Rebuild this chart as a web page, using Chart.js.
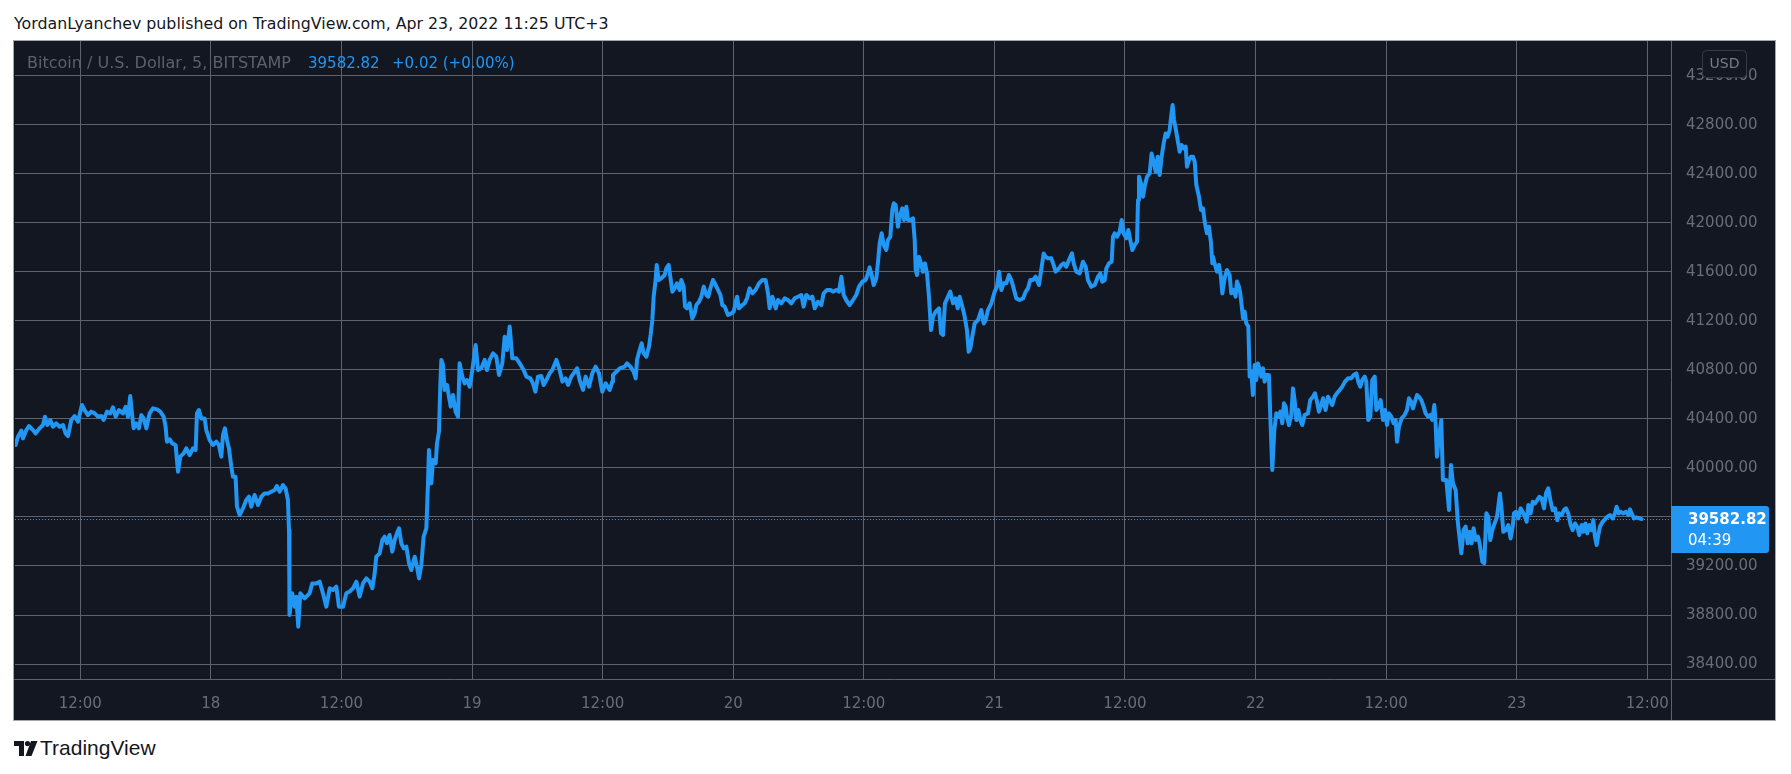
<!DOCTYPE html>
<html>
<head>
<meta charset="utf-8">
<script src="https://cdn.jsdelivr.net/npm/chart.js@4.4.1/dist/chart.umd.min.js"></script>
<style>
  html, body { margin: 0; padding: 0; background: #ffffff; width: 1791px; height: 774px; overflow: hidden; font-family: "DejaVu Sans", sans-serif; }
  #title { position: absolute; left: 14px; top: 14px; font-size: 15.8px; color: #131722; white-space: nowrap; }
  #panel { position: absolute; left: 13px; top: 40px; width: 1761px; height: 679px; border: 1px solid #a3a6af; background: #131722; }
  #miCanvas { position: absolute; left: 0; top: 0; }
  .leg { position: absolute; top: 54px; font-size: 15px; white-space: nowrap; }
  #logo { position: absolute; left: 14px; top: 736px; height: 22px; }
  #logo span { position: absolute; left: 26px; top: 0; font-family: "Liberation Sans", sans-serif; font-size: 21px; color: #131722; white-space: nowrap; }
</style>
</head>
<body>
<div id="title">YordanLyanchev published on TradingView.com, Apr 23, 2022 11:25 UTC+3</div>
<div id="panel"><canvas id="miCanvas" width="1761" height="679"></canvas></div>
<div class="leg" style="left:27px;top:53px;font-size:16px;color:#5d606b">Bitcoin / U.S. Dollar, 5, BITSTAMP</div>
<div class="leg" style="left:308px;color:#2196f3">39582.82</div>
<div class="leg" style="left:392px;color:#2196f3">+0.02 (+0.00%)</div>
<div id="logo">
  <svg width="24" height="16" viewBox="0 0 24 16" style="position:absolute;left:0;top:5px">
    <path d="M0 0 H10 V15 H5 V5 H0 Z" fill="#131722"/>
    <circle cx="13.5" cy="2.6" r="2.6" fill="#131722"/>
    <path d="M17 0 H23.5 L17.5 15 H11.5 Z" fill="#131722"/>
  </svg>
  <span>TradingView</span>
</div>
<script>
// hours since Apr 17 00:00 (UTC+3), 5-min BTC/USD
const hours = [
  6.06,6.27,6.58,6.73,7.04,7.28,7.65,7.90,8.26,8.57,8.75,8.97,9.24,9.49,9.79,10.10,10.41,10.65,10.87,11.17,11.48,11.79,
  12.15,12.40,12.70,13.01,13.32,13.62,13.93,14.14,14.45,14.76,15.00,15.25,15.55,15.92,16.17,16.38,16.59,16.75,16.90,17.15,17.39,17.61,17.82,
  18.07,18.37,18.68,19.05,19.35,19.66,19.84,19.96,20.21,20.45,20.76,20.98,21.19,21.50,21.74,22.05,22.35,22.60,22.72,22.90,23.12,23.43,23.58,23.89,
  24.19,24.50,24.74,24.96,25.11,25.29,25.48,25.66,25.88,26.03,26.27,26.40,26.64,26.95,27.25,27.50,27.71,28.02,28.33,28.63,28.94,29.25,29.55,29.86,
  30.07,30.32,30.62,30.87,31.08,31.18,31.21,31.24,31.48,31.70,31.85,32.03,32.22,32.62,33.07,33.32,
  33.69,34.00,34.30,34.61,34.92,35.22,35.53,35.77,36.14,36.45,36.75,37.06,37.37,37.67,37.98,38.29,38.59,38.84,39.05,39.20,39.51,39.76,39.97,
  40.18,40.43,40.67,40.89,41.10,41.29,41.50,41.72,41.96,42.21,42.42,42.73,42.94,43.13,43.34,43.55,43.80,43.95,44.04,44.26,44.41,44.66,44.78,44.96,
  45.09,45.18,45.33,45.48,45.70,45.88,46.04,46.25,46.49,46.71,46.86,47.11,47.32,47.54,47.78,48.03,48.33,48.55,48.85,49.16,49.37,49.62,49.93,
  50.23,50.48,50.78,51.00,51.21,51.46,51.70,52.07,52.38,52.74,52.99,53.36,53.60,53.82,54.06,54.37,54.58,54.83,55.13,55.38,55.75,56.05,
  56.30,56.60,56.82,57.12,57.34,57.65,57.89,58.20,58.44,58.75,59.05,59.36,59.67,59.97,60.28,60.65,60.89,
  60.95,61.26,61.57,62.03,62.24,62.55,62.85,63.04,63.16,63.40,63.59,63.77,64.02,64.26,64.41,64.57,64.69,64.87,64.97,65.15,65.39,65.70,65.85,66.07,
  66.22,66.41,66.62,66.83,67.08,67.23,67.45,67.57,67.75,68.00,68.24,68.46,68.61,68.86,69.07,69.29,69.53,69.71,69.90,70.14,70.39,70.60,70.82,71.00,
  71.22,71.52,71.83,72.04,72.35,72.53,72.84,73.05,73.27,73.51,73.76,74.06,74.37,74.68,74.98,75.20,75.35,75.60,75.90,76.12,76.42,76.73,77.03,77.34,
  77.65,77.95,78.26,78.47,78.72,79.03,79.27,79.49,79.79,80.10,80.31,80.62,80.93,81.17,81.48,81.72,81.94,82.15,82.38,82.70,83.01,83.31,83.56,83.87,
  84.17,84.39,84.54,84.72,84.91,85.15,85.31,85.46,85.64,85.83,86.07,86.22,86.44,86.62,86.75,86.93,87.14,87.30,87.54,87.70,87.91,88.06,88.28,
  88.52,88.68,88.77,88.89,89.07,89.26,89.44,89.62,89.81,89.99,90.18,90.36,90.61,90.91,91.10,91.28,91.46,91.74,91.95,92.20,92.44,92.63,92.81,93.06,
  93.27,93.48,93.64,93.79,93.97,94.19,94.50,94.80,95.02,95.20,95.41,95.72,96.03,96.24,96.43,96.64,96.85,97.10,97.34,97.56,97.77,98.02,98.32,98.63,
  98.88,99.09,99.30,99.55,99.79,100.10,100.28,100.53,100.71,100.93,101.23,101.45,101.63,101.94,102.15,102.37,102.61,102.92,103.13,103.29,103.53,103.84,104.14,104.39,
  104.60,104.91,105.22,105.52,105.74,105.92,106.14,106.29,106.53,106.78,106.90,107.05,107.27,107.51,107.70,107.88,108.13,108.31,108.49,108.68,108.89,109.11,
  109.20,109.29,109.47,109.66,109.84,110.03,110.27,110.45,110.64,110.82,111.01,111.19,111.37,111.56,111.74,111.92,112.11,112.26,112.38,112.51,112.66,112.84,
  113.03,113.21,113.40,113.58,113.70,113.89,114.07,114.25,114.41,114.56,114.80,114.99,115.17,115.35,115.54,115.72,115.91,116.03,
  116.09,116.24,116.46,116.64,116.82,116.95,117.16,117.37,117.62,117.77,117.99,118.17,118.29,118.48,118.60,118.72,118.85,119.00,119.15,119.34,
  119.46,119.61,119.76,119.92,120.07,120.22,120.38,120.53,120.68,120.84,120.99,121.23,121.36,121.54,121.73,121.91,122.09,122.28,122.46,122.61,122.77,122.89,
  123.07,123.29,123.44,123.59,123.75,123.93,124.11,124.30,124.51,124.82,125.03,125.28,125.46,125.65,125.83,126.04,126.20,126.44,126.66,126.87,127.05,127.27,
  127.48,127.73,127.97,128.22,128.50,128.80,129.02,129.26,129.44,129.63,129.81,130.03,130.18,130.36,130.55,130.73,130.95,131.10,131.28,131.50,131.71,131.90,
  132.08,132.26,132.48,132.69,132.88,133.00,133.18,133.43,133.70,133.92,134.10,134.28,134.47,134.65,134.84,135.02,135.23,135.45,135.63,135.85,136.06,136.24,
  136.43,136.55,136.67,136.86,137.07,137.22,137.53,137.78,137.96,138.14,138.39,138.60,138.91,139.12,139.31,139.49,139.68,139.86,140.04,140.23,140.44,140.59,
  140.84,141.02,141.21,141.39,141.57,141.76,141.97,142.19,
  142.46,142.62,142.77,143.01,143.23,143.44,143.63,143.75,143.93,144.15,144.36,144.55,144.76,144.91,145.07,145.28,145.47,145.68,145.89,146.08,146.29,146.51,
  146.69,146.90,147.12,147.30,147.52,147.73,147.92,148.13,148.34,148.53,148.74,148.96,149.14,149.36,149.57,149.75,149.97,150.12,150.31,150.49,150.67,150.89,
  151.04,151.19,151.35,151.50,151.65,151.90,152.11,152.33,152.57,152.82,153.03,153.18,153.37,153.55,153.80,154.04,154.26,154.41,154.59,154.78,155.02,155.27,155.48
];
const prices = [
  40187,40255,40304,40241,40309,40342,40309,40282,40323,40350,40418,40350,40391,40336,40363,40336,40350,40282,40260,40391,40423,40377,
  40513,40472,40431,40459,40445,40418,40423,40391,40459,40445,40494,40418,40472,40445,40499,40418,40586,40445,40323,40363,40323,40431,40404,
  40323,40445,40486,40478,40459,40418,40336,40214,40233,40200,40187,39969,40092,40119,40160,40105,40160,40146,40445,40472,40404,40404,40309,40227,
  40187,40214,40187,40092,40268,40323,40227,40160,40010,39928,39928,39684,39616,39670,39738,39765,39684,39779,39697,39765,39792,39792,39806,39820,
  39852,39806,39860,39833,39738,39493,39031,38800,38977,38868,38949,38705,38977,38936,38977,39058,
  39058,39072,38977,38868,39018,39004,39031,38868,38868,38977,38991,39018,39072,38950,39058,39099,39072,39018,39140,39276,39303,39412,39439,
  39385,39453,39317,39412,39466,39507,39385,39344,39358,39222,39167,39276,39194,39099,39208,39439,39507,39874,40146,39874,40065,40038,40201,40296,
  40690,40881,40840,40636,40677,40581,40500,40595,40459,40418,40853,40745,40690,40717,40663,40799,41003,40799,40813,40881,40799,40881,40935,
  40908,40758,40853,41071,40962,41153,40894,40894,40853,40799,40745,40731,40690,40622,40745,40750,40677,40717,40772,40799,40881,40799,
  40704,40731,40677,40745,40772,40813,40717,40636,40745,40663,40772,40826,40772,40622,40690,40636,40704,
  40758,40785,40812,40826,40853,40826,40785,40731,40880,40962,41016,40935,40908,40989,41084,41207,41397,41533,41656,41533,41547,41574,41628,41656,
  41560,41438,41465,41506,41452,41533,41479,41316,41302,41343,41220,41261,41329,41356,41397,41479,41411,41397,41465,41533,41492,41452,41411,41329,
  41316,41248,41261,41275,41397,41302,41329,41343,41384,41465,41424,41452,41506,41533,41533,41424,41302,41397,41302,41370,41343,41384,41370,41343,
  41384,41397,41411,41316,41411,41384,41397,41302,41356,41329,41424,41452,41452,41438,41452,41438,41560,41411,41370,41329,41370,41411,41479,41520,
  41533,41588,41636,41574,41492,41547,41683,41832,41914,41819,41778,41859,41887,42104,42159,42145,41968,42050,42118,42023,42131,42023,42023,
  42036,41859,41614,41574,41723,41669,41601,41669,41587,41397,41125,41234,41275,41302,41098,41084,41343,41397,41438,41343,41383,41302,41397,41315,
  41234,41125,40948,40975,41071,41179,41207,41288,41179,41207,41288,41343,41438,41478,41601,41451,41506,41506,41574,41533,41465,41383,41370,41383,
  41438,41465,41533,41533,41560,41492,41601,41750,41723,41710,41710,41655,41601,41628,41655,41669,41642,41710,41750,41669,41601,41587,41682,41642,
  41533,41478,41492,41560,41587,41519,41533,41628,41669,41682,41886,41914,41886,41927,42022,41914,41873,41941,41859,41778,41818,41846,
  42186,42376,42322,42213,42308,42376,42403,42566,42498,42417,42539,42390,42539,42648,42729,42702,42757,42879,42961,42838,42770,42675,
  42580,42634,42607,42621,42458,42512,42539,42539,42498,42308,42213,42104,42118,41995,41914,41968,41832,41669,
  41724,41669,41601,41656,41560,41424,41547,41615,41574,41424,41452,41397,41520,41479,41424,41329,41221,41275,41180,41153,
  40745,40785,40595,40840,40717,40853,40799,40745,40813,40704,40758,40758,40418,39983,40309,40445,40418,40459,40364,40527,40500,40418,
  40350,40432,40649,40554,40391,40473,40391,40350,40432,40445,40554,40581,40609,40541,40459,40513,40568,40473,40581,40541,40513,40581,
  40609,40636,40663,40704,40731,40731,40758,40772,40704,40663,40717,40745,40704,40391,40418,40717,40745,40473,40500,40554,40391,40473,
  40350,40445,40418,40364,40391,40214,40337,40405,40432,40473,40568,40541,40486,40541,40595,40581,40554,40500,40445,40418,40432,40391,
  40513,40364,40092,40255,40391,39902,39902,39657,40024,39874,39820,39548,39303,39494,39521,39385,39480,39385,39507,39412,39439,39385,
  39235,39222,39630,39602,39412,39494,39548,39602,
  39792,39656,39479,39493,39534,39425,39520,39629,39642,39588,39670,39642,39602,39561,39697,39629,39724,39710,39738,39765,39751,39670,
  39792,39833,39724,39656,39670,39574,39629,39615,39656,39670,39629,39534,39493,39547,39520,39452,39534,39479,39547,39466,39534,39493,
  39574,39439,39371,39452,39520,39561,39580,39602,39615,39588,39629,39683,39629,39642,39629,39642,39615,39662,39623,39588,39596,39588,39582.82
];
const xTickHours = [12, 24, 36, 48, 60, 72, 84, 96, 108, 120, 132, 144, 156];
const xTickLabels = ["12:00", "18", "12:00", "19", "12:00", "20", "12:00", "21", "12:00", "22", "12:00", "23", "12:00"];
const yTickValues = [38400, 38800, 39200, 39600, 40000, 40400, 40800, 41200, 41600, 42000, 42400, 42800, 43200];
const xRange = [6.0, 158.18];
const yRange = [38278, 43483];
const lastPrice = 39582.82;
const countdown = "04:39";

const gridColor = "#5f626d";
const labelColor = "#6a6d78";
const lineBlue = "#2196f3";

Chart.defaults.font.family = "DejaVu Sans";

// lineas extra estilo TradingView: linea de precio, separadores, etiqueta, caja USD
const tvDecor = {
  id: "tvDecor",
  beforeDatasetsDraw(chart) {
    const { ctx, chartArea, scales } = chart;
    const py = Math.round(scales.y.getPixelForValue(lastPrice)) + 0.5;
    ctx.save();
    ctx.strokeStyle = lineBlue;
    ctx.lineWidth = 1;
    ctx.setLineDash([1, 2]);
    ctx.beginPath();
    ctx.moveTo(chartArea.left, py);
    ctx.lineTo(chartArea.right, py);
    ctx.stroke();
    ctx.restore();
  },
  afterDraw(chart) {
    const { ctx, chartArea, scales, width, height } = chart;
    ctx.save();
    // separadores de ejes
    ctx.strokeStyle = gridColor;
    ctx.lineWidth = 1;
    ctx.beginPath();
    ctx.moveTo(chartArea.right + 0.5, 0);
    ctx.lineTo(chartArea.right + 0.5, height);
    ctx.moveTo(0, chartArea.bottom + 0.5);
    ctx.lineTo(width, chartArea.bottom + 0.5);
    ctx.stroke();

    // etiqueta del ultimo precio
    const py = scales.y.getPixelForValue(lastPrice);
    const bx = chartArea.right, by = Math.round(py) - 13;
    ctx.fillStyle = lineBlue;
    ctx.beginPath();
    ctx.roundRect(bx, by, 98, 47, [0, 3, 3, 0]);
    ctx.fill();
    ctx.fillStyle = "#ffffff";
    ctx.textBaseline = "middle";
    ctx.textAlign = "left";
    ctx.font = "bold 15px 'DejaVu Sans'";
    ctx.fillText(lastPrice.toFixed(2), bx + 17, py + 1);
    ctx.font = "15px 'DejaVu Sans'";
    ctx.fillText(countdown, bx + 17, py + 22);

    // caja USD
    ctx.fillStyle = "#131722";
    ctx.strokeStyle = "#363a45";
    ctx.beginPath();
    ctx.roundRect(1688.5, 9.5, 44, 27, 4);
    ctx.fill();
    ctx.stroke();
    ctx.fillStyle = "#787b86";
    ctx.textAlign = "center";
    ctx.font = "14px 'DejaVu Sans'";
    ctx.fillText("USD", 1710.5, 23.5);
    ctx.restore();
  }
};

const ctx = document.getElementById("miCanvas");
const n = Math.min(hours.length, prices.length);
const puntos = [];
for (let i = 0; i < n; i++) {
  puntos.push({ x: hours[i], y: prices[i] });
}

const myChart = new Chart(ctx, {
  type: "line",
  data: {
    datasets: [
      {
        label: "BTCUSD",
        data: puntos,
        borderColor: lineBlue,
        borderWidth: 4,
        borderJoinStyle: "round",
        borderCapStyle: "round",
        pointRadius: 0,
        tension: 0,
        fill: false,
      },
    ],
  },
  options: {
    responsive: false,
    animation: false,
    events: [],
    layout: { padding: { left: 1, top: 0, right: 0, bottom: 0 } },
    scales: {
      x: {
        type: "linear",
        min: xRange[0],
        max: xRange[1],
        afterBuildTicks: (s) => { s.ticks = xTickHours.map((v) => ({ value: v })); },
        afterFit: (s) => { s.height = 41; s.paddingLeft = 0; s.paddingRight = 0; },
        grid: { color: gridColor, drawTicks: false },
        border: { display: false },
        ticks: {
          autoSkip: false,
          maxRotation: 0,
          padding: 16,
          color: labelColor,
          font: { size: 15 },
          callback: (v) => xTickLabels[xTickHours.indexOf(v)],
        },
      },
      y: {
        position: "right",
        min: yRange[0],
        max: yRange[1],
        afterBuildTicks: (s) => { s.ticks = yTickValues.map((v) => ({ value: v })); },
        // sin padding extra arriba/abajo, el area del grafico llega al borde
        afterFit: (s) => { s.width = 104; s.paddingTop = 0; s.paddingBottom = 0; },
        grid: { color: gridColor, drawTicks: false },
        border: { display: false },
        ticks: {
          padding: 15,
          crossAlign: "near",
          color: labelColor,
          font: { size: 15 },
          callback: (v) => v.toFixed(2),
        },
      },
    },
    plugins: {
      legend: { display: false },
      tooltip: { enabled: false },
    },
  },
  plugins: [tvDecor],
});
</script>
</body>
</html>
